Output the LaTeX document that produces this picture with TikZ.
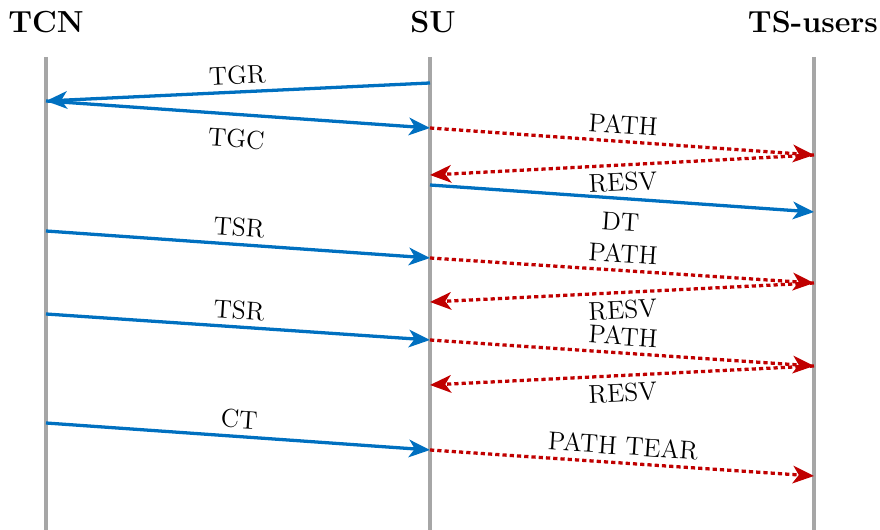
\documentclass[tikz,border=0pt]{standalone}
\usetikzlibrary{arrows.meta, positioning}
\definecolor{msgblue}{HTML}{0070C0}
\definecolor{msgred}{HTML}{C00000}
\definecolor{lifegray}{HTML}{A6A6A6}
\begin{document}
\begin{tikzpicture}[x=0.015cm, y=-0.015cm, >={Stealth[length=9pt,width=7.5pt,inset=2.5pt]},
      life/.style={draw=lifegray, line width=1.3pt},
      head/.style={font=\fontsize{13}{15}\selectfont\bfseries, inner sep=0pt},
      sig/.style={->, draw=msgblue, line width=1.4pt},
      rsvp/.style={->, draw=msgred, line width=1.4pt, dash pattern=on 1.8pt off 1.3pt},
      lab/.style={sloped, inner sep=2.6pt, font=\fontsize{11}{13}\selectfont}]
  \useasboundingbox (0,0) rectangle (880,530);
  % entities and lifelines
  \node[head] (tcn) at (46,22) {TCN};
  \node[head] (su)  at (433,22) {SU};
  \node[head] (ts)  at (813,22) {TS-users};
  \foreach \n/\x in {tcn/46, su/430, ts/814} {
    \coordinate (\n Top) at (\x,57);
    \coordinate (\n Bot) at (\x,530);
    \draw[life] (\n Top) -- (\n Bot);
  }
  % message end points
  \foreach \n/\x/\y in {su1/430/83, tcn1/46/101, su2/430/128, ts1/814/155, su3/430/175,
      su4/430/185, ts2/814/212, tcn2/46/231, su5/430/258, ts3/814/283, su6/430/302,
      tcn3/46/314, su7/430/340, ts4/814/366, su8/430/385, tcn4/46/423, su9/430/450, ts5/814/476}
    \coordinate (\n) at (\x,\y);
  % messages
  \draw[sig]  (su1) -- node[lab, above] {TGR} (tcn1);
  \draw[sig]  (tcn1) -- node[lab, below=3pt] {TGC} (su2);
  \draw[rsvp] (su2) -- node[lab, above] {PATH} (ts1);
  \draw[rsvp] (ts1) -- node[lab, below] {RESV} (su3);
  \draw[sig]  (su4) -- node[lab, below=3pt] {DT} (ts2);
  \draw[sig]  (tcn2) -- node[lab, above] {TSR} (su5);
  \draw[rsvp] (su5) -- node[lab, above] {PATH} (ts3);
  \draw[rsvp] (ts3) -- node[lab, below] {RESV} (su6);
  \draw[sig]  (tcn3) -- node[lab, above] {TSR} (su7);
  \draw[rsvp] (su7) -- node[lab, above] {PATH} (ts4);
  \draw[rsvp] (ts4) -- node[lab, below] {RESV} (su8);
  \draw[sig]  (tcn4) -- node[lab, above] {CT} (su9);
  \draw[rsvp] (su9) -- node[lab, above] {PATH TEAR} (ts5);
\end{tikzpicture}
\end{document}
